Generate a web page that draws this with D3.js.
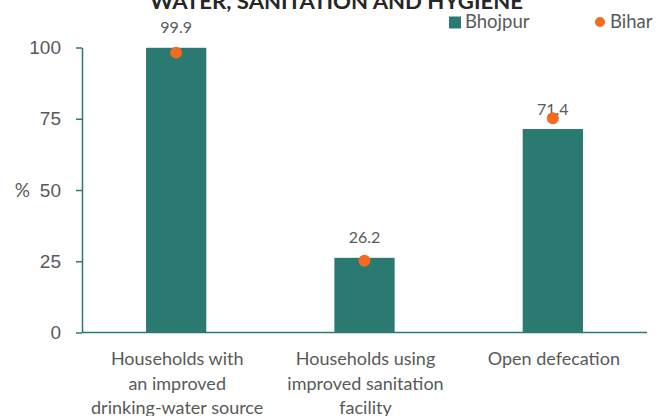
<!DOCTYPE html>
<html>
<head>
<meta charset="utf-8">
<script src="https://cdn.jsdelivr.net/npm/d3@7"></script>
<style>
  body { margin: 0; background: #fff; }
  svg { display: block; font-family: Lato, "Open Sans", sans-serif; }
</style>
</head>
<body>
<svg id="chart" width="658" height="416"></svg>
<script>
const categories = [
  ['Households with', 'an improved', 'drinking-water source'],
  ['Households using', 'improved sanitation', 'facility'],
  ['Open defecation']
];
const bhojpur = [99.9, 26.2, 71.4];
const bihar = [98.2, 25.2, 75.2];
const yTicks = [0, 25, 50, 75, 100];

const teal = '#2a7a72';
const orange = '#f26b21';
const grey = '#595959';

const margin = { top: 47.5, left: 82, right: 11, bottom: 83.5 };
const W = 658, H = 416;
const width = W - margin.left - margin.right;
const height = H - margin.top - margin.bottom;

const svg = d3.select('#chart');
const g = svg.append('g').attr('transform', 'translate(' + margin.left + ',' + margin.top + ')');

// scales
const x = d3.scaleBand().domain(d3.range(categories.length)).range([0, width]).paddingInner(0.68).paddingOuter(0.34);
const y = d3.scaleLinear().domain([0, 100]).range([height, 0]);

// title (cut off at the top like the reference)
svg.append('text')
  .attr('x', 150).attr('y', 9)
  .attr('textLength', 373).attr('lengthAdjust', 'spacingAndGlyphs')
  .style('font-weight', 'bold').style('font-size', '20px').style('fill', '#262626')
  .text('WATER, SANITATION AND HYGIENE');

// y axis
const yAxis = g.append('g')
  .call(d3.axisLeft(y).tickValues(yTicks).tickSize(6).tickSizeOuter(0).tickPadding(15));
yAxis.select('.domain').attr('stroke', teal).attr('stroke-width', 1.5);
yAxis.selectAll('.tick line').attr('stroke', teal).attr('stroke-width', 1.5);
yAxis.selectAll('.tick text').style('font-size', '19px').style('fill', grey).style('font-family', 'inherit');

g.append('text')
  .attr('x', -52).attr('y', y(50))
  .attr('dy', '0.35em')
  .attr('text-anchor', 'end')
  .style('font-size', '19px').style('fill', grey)
  .text('%');

// bars
g.selectAll('rect.bar')
  .data(bhojpur)
  .enter()
  .append('rect')
  .attr('class', 'bar')
  .attr('x', (d, i) => x(i))
  .attr('y', d => y(d))
  .attr('width', x.bandwidth())
  .attr('height', d => y(0) - y(d))
  .attr('fill', teal);

// x axis line
g.append('line')
  .attr('x1', 0).attr('x2', width)
  .attr('y1', y(0)).attr('y2', y(0))
  .attr('stroke', teal).attr('stroke-width', 1.5);

// value labels
g.selectAll('text.val')
  .data(bhojpur)
  .enter()
  .append('text')
  .attr('class', 'val')
  .attr('x', (d, i) => x(i) + x.bandwidth() / 2)
  .attr('y', d => y(d) - 14.5)
  .attr('text-anchor', 'middle')
  .style('font-size', '16px').style('fill', grey)
  .text(d => d.toFixed(1));

// Bihar points
g.selectAll('circle.pt')
  .data(bihar)
  .enter()
  .append('circle')
  .attr('class', 'pt')
  .attr('cx', (d, i) => x(i) + x.bandwidth() / 2)
  .attr('cy', d => y(d))
  .attr('r', 6)
  .attr('fill', orange);

// category labels
const cat = g.selectAll('text.cat')
  .data(categories)
  .enter()
  .append('text')
  .attr('class', 'cat')
  .attr('text-anchor', 'middle')
  .attr('transform', (d, i) => 'translate(' + (x(i) + x.bandwidth() / 2 + 1) + ',' + (y(0) + 32.5) + ')')
  .style('font-size', '18px').style('fill', grey);
cat.selectAll('tspan')
  .data(d => d)
  .enter()
  .append('tspan')
  .attr('x', 0)
  .attr('dy', (d, i) => i === 0 ? 0 : 24.5)
  .text(d => d);

// legend
const leg = svg.append('g');
leg.append('rect').attr('x', 449).attr('y', 16.5).attr('width', 12).attr('height', 12).attr('fill', teal);
leg.append('text').attr('x', 465).attr('y', 28).style('font-size', '18.5px').style('fill', grey).text('Bhojpur');
leg.append('circle').attr('cx', 600).attr('cy', 22).attr('r', 5).attr('fill', orange);
leg.append('text').attr('x', 610).attr('y', 28).style('font-size', '18.5px').style('fill', grey).text('Bihar');
</script>
</body>
</html>
